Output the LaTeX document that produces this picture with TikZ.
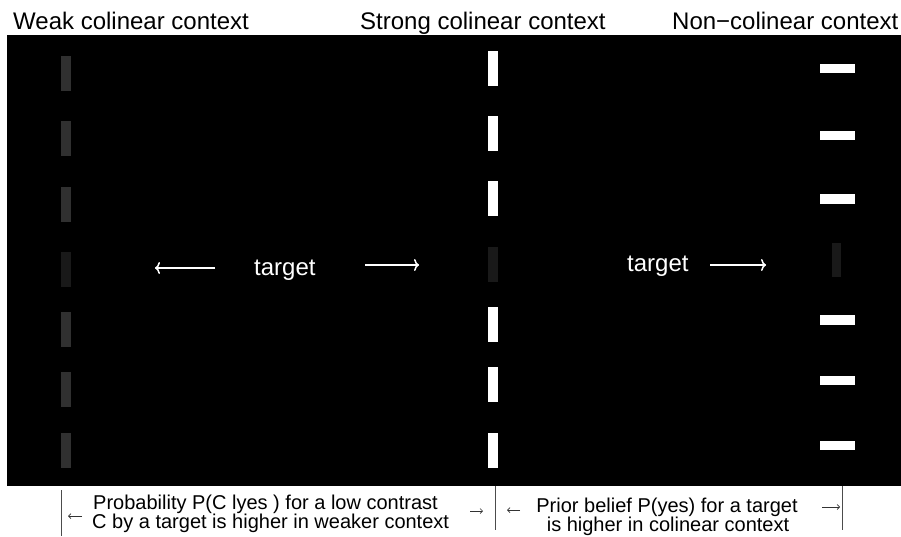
\documentclass[tikz,border=0pt]{standalone}
\usepackage{fontspec}
\setmainfont{Liberation Sans}
\usetikzlibrary{arrows.meta}

\definecolor{weakgray}{gray}{0.19}
\definecolor{faintgray}{gray}{0.1}
\tikzset{
  title/.style={anchor=base west, inner sep=0pt, font=\fontsize{24}{28}\selectfont},
  tgtlabel/.style={anchor=base west, inner sep=0pt, text=white, font=\fontsize{24}{28}\selectfont},
  note/.style={inner sep=0pt, font=\fontsize{20}{18}\selectfont},
  whitearrow/.style={white, line width=1.5pt, -{To[length=5pt,width=12pt]}},
  smallarrow/.style={black!80, line width=0.7pt, -{Straight Barb[length=2.5pt,width=5pt]}},
  divider/.style={black!70, line width=1pt},
}

\begin{document}
\begin{tikzpicture}[x=1pt,y=-1pt]
    \useasboundingbox (0,0) rectangle (901,536);
    \fill[black] (7,35) rectangle (901,486);

    % column titles
    \node[title] (weak) at (13,29) {Weak colinear context};
    \node[title] (strong) at (360,29) {Strong colinear context};
    \node[title] (noncol) at (672,29) {Non−colinear context};

    % weak colinear flankers
    \foreach \y in {55.7,121,186.7,312,372,432.7}
        \fill[weakgray] (61,\y) rectangle ++(10,35);
    \fill[faintgray] (61,251.7) rectangle ++(10,35);

    % strong colinear flankers
    \foreach \y in {51,116,181,307,367,433}
        \fill[white] (488,\y) rectangle ++(10,35);
    \fill[faintgray] (488,247) rectangle ++(10,35);

    % non-colinear flankers
    \foreach \y in {63.7,130.7,194.3,315,375.7,440.7}
        \fill[white] (820,\y) rectangle ++(35,9.6);
    \fill[faintgray] (832,242.7) rectangle ++(9,34);

    % target labels
    \node[tgtlabel] (tgtA) at (254,275) {target};
    \node[tgtlabel] (tgtB) at (627,271) {target};

    \coordinate (aL0) at (215,268);
    \coordinate (aL1) at (155,268);
    \coordinate (aR0) at (365,265);
    \coordinate (aR1) at (419,265);
    \coordinate (bR0) at (710,265);
    \coordinate (bR1) at (766,265);
    \draw[whitearrow] (aL0) -- (aL1);
    \draw[whitearrow] (aR0) -- (aR1);
    \draw[whitearrow] (bR0) -- (bR1);

    % dividers below the panel
    \draw[divider] (61,490) -- (61,536);
    \draw[divider] (495,486) -- (495,530);
    \draw[divider] (842,486) -- (842,530);

    % notes
    \node[note, anchor=base west] (likeA) at (93,509) {Probability P(C lyes ) for a low contrast};
    \node[note, anchor=base west] (likeB) at (92,528) {C by a target is higher in weaker context};
    \node[note, anchor=base] (priorA) at (667,512) {Prior belief P(yes) for a target};
    \node[note, anchor=base] (priorB) at (668,531) {is higher in colinear context};

    \coordinate (sL0) at (82,516);
    \coordinate (sL1) at (68,516);
    \coordinate (sM0) at (470,511);
    \coordinate (sM1) at (483,511);
    \coordinate (sN0) at (520,510);
    \coordinate (sN1) at (507,510);
    \coordinate (sR0) at (822,507);
    \coordinate (sR1) at (840,507);
    \draw[smallarrow] (sL0) -- (sL1);
    \draw[smallarrow] (sM0) -- (sM1);
    \draw[smallarrow] (sN0) -- (sN1);
    \draw[smallarrow] (sR0) -- (sR1);
\end{tikzpicture}
\end{document}
